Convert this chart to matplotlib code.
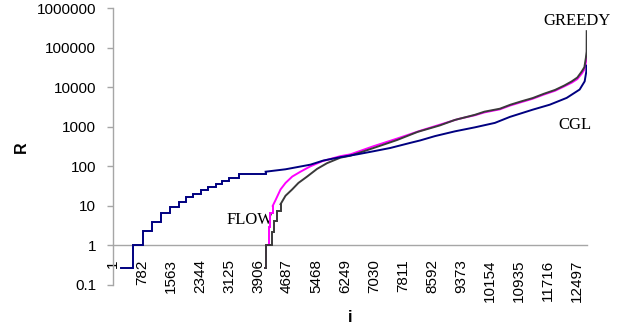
import matplotlib
matplotlib.use("Agg")
import matplotlib.pyplot as plt
from matplotlib.ticker import FixedLocator, FixedFormatter, NullLocator

# ---- data ----
x_tick_labels = [1 + 781 * k for k in range(17)]
y_tick_values = [0.1, 1, 10, 100, 1000, 10000, 100000, 1000000]
y_tick_labels = ["0.1", "1", "10", "100", "1000", "10000", "100000", "1000000"]

# CGL: first part is a staircase, rest a jagged line
cgl_i = [216, 546, 798, 1040, 1290, 1539, 1764, 1960, 2156, 2363, 2559, 2766, 2945, 3123, 3391,
         4108, 4645, 5316, 5665, 6121, 6569, 7015, 7463, 8000, 8268, 8670, 9207, 9744, 10281,
         10684, 11301, 11757, 12213, 12562, 12697, 12742, 12750]
cgl_r = [0.27, 1, 2.3, 4.0, 6.5, 9.6, 12.3, 16.6, 20.5, 25, 30, 35, 43, 50, 63,
         73, 84, 110, 140, 170, 200, 240, 290, 390, 450, 580, 765, 965, 1250,
         1770, 2700, 3600, 5350, 8700, 14000, 25000, 35000]
cgl_n_step = 15

greedy_i = [4100, 4108, 4287, 4330, 4421, 4510, 4644, 4823, 4992, 5226, 5494, 5763,
            6120, 6389, 7015, 7643, 8200, 8800, 9200, 9744, 10000, 10415, 10700, 11000,
            11300, 11600, 11900, 12150, 12350, 12500, 12620, 12690, 12730, 12750, 12752]
greedy_r = [0.27, 1, 2.2, 4.2, 7.5, 11, 18, 26, 38, 55, 86, 120,
            165, 185, 290, 460, 740, 1080, 1480, 2000, 2400, 2850, 3600, 4400,
            5300, 6800, 8500, 11000, 14000, 17500, 25000, 32000, 55000, 80000, 260000]
greedy_n_step = 5

flow_i = [4100, 4108, 4197, 4215, 4300, 4376, 4510, 4645, 4825, 5047, 5316, 5630,
          6120, 6389, 7006, 7643, 8268, 8804, 9288, 9744, 10000, 10415, 10700, 11000,
          11300, 11600, 11900, 12150, 12350, 12500, 12620, 12690, 12730, 12750]
flow_r = [0.27, 1, 3.0, 6.5, 10, 14, 26, 38, 55, 73, 100, 134,
          180, 200, 320, 500, 790, 1130, 1560, 1950, 2300, 2750, 3450, 4200,
          5100, 6500, 8100, 10500, 13000, 16000, 22000, 28000, 42000, 60000]
flow_n_step = 4

# ---- figure ----
W, H = 637, 329
fig = plt.figure(figsize=(W / 100, H / 100), dpi=100)
ax = fig.add_axes([113 / W, 1 - 285 / H, (587 - 113) / W, (285 - 8) / H])

axis_col = "#a6a6a6"
c_cgl, c_greedy, c_flow = "#000080", "#3a3a3a", "#ff00ff"
lw = 1.4


def draw(xs, ys, n_step, color, z):
    ax.plot(xs[:n_step + 1], ys[:n_step + 1], color=color, lw=lw,
            drawstyle="steps-post", zorder=z, solid_joinstyle="miter")
    ax.plot(xs[n_step:], ys[n_step:], color=color, lw=lw, zorder=z)


draw(flow_i, flow_r, flow_n_step, c_flow, 3)
draw(greedy_i, greedy_r, greedy_n_step, c_greedy, 4)
draw(cgl_i, cgl_r, cgl_n_step, c_cgl, 5)

ax.set_yscale("log")
ax.set_ylim(0.1, 1e6)
ax.set_xlim(0, 12760)

ax.yaxis.set_major_locator(FixedLocator(y_tick_values))
ax.yaxis.set_major_formatter(FixedFormatter(y_tick_labels))
ax.yaxis.set_minor_locator(NullLocator())
ax.xaxis.set_major_locator(FixedLocator(x_tick_labels))
ax.xaxis.set_major_formatter(FixedFormatter([str(v) for v in x_tick_labels]))
ax.xaxis.set_minor_locator(NullLocator())

for s in ["top", "right"]:
    ax.spines[s].set_visible(False)
ax.spines["left"].set_color(axis_col)
ax.spines["bottom"].set_color(axis_col)
ax.spines["left"].set_linewidth(1.0)
ax.spines["bottom"].set_linewidth(1.0)
ax.spines["bottom"].set_position(("data", 1))

ax.tick_params(axis="y", length=4, color=axis_col, width=1, pad=8)
ax.tick_params(axis="x", length=0, pad=10)
for lab in ax.get_yticklabels():
    lab.set_fontfamily("Liberation Sans")
    lab.set_fontsize(11)
for lab in ax.get_xticklabels():
    lab.set_fontfamily("Liberation Sans")
    lab.set_fontsize(11)
    lab.set_rotation(90)
    lab.set_va("top")
    lab.set_ha("center")

fig.text(21 / W, 1 - 147 / H, "R", rotation=90, ha="center", va="center",
         fontsize=11.5, fontweight="bold", family="Liberation Sans")
fig.text(350 / W, 1 - 318 / H, "i", ha="center", va="center",
         fontsize=11.5, fontweight="bold", family="Liberation Sans")

serif = dict(family="Liberation Serif", fontsize=12, color="black")
ax.text(12482, 380000, "GREEDY", ha="center", va="baseline", **serif)
ax.text(12447, 880, "CGL", ha="center", va="baseline", **serif)
ax.text(3678, 3.4, "FLOW", ha="center", va="baseline", zorder=2, **serif)

fig.savefig("out.png", dpi=100)
